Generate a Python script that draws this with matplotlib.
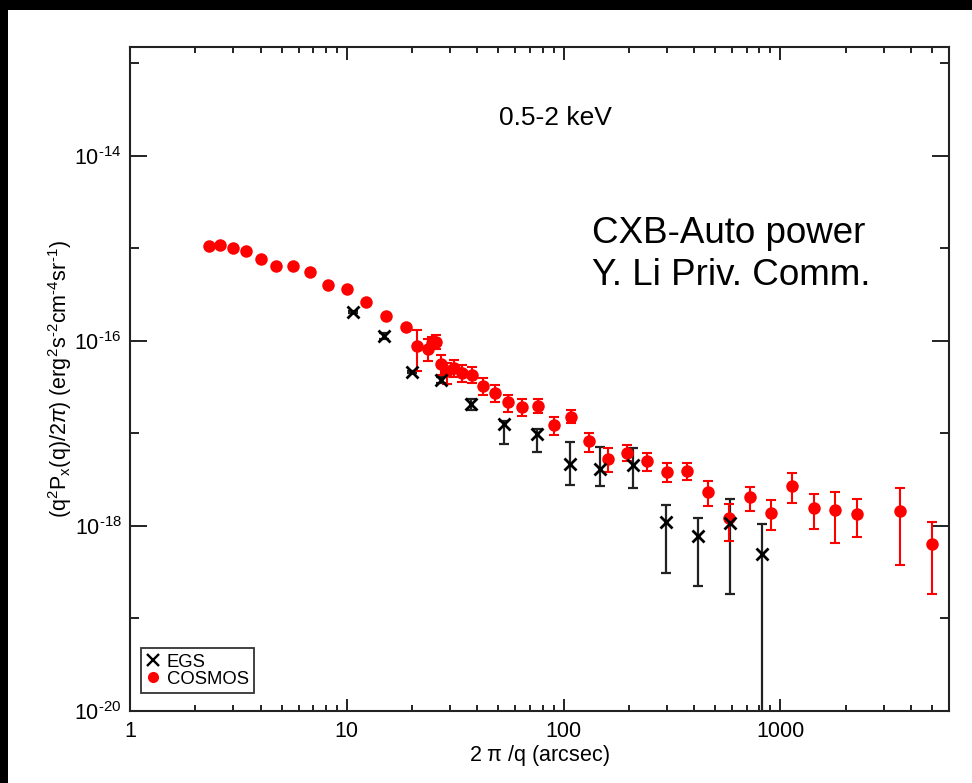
import matplotlib
matplotlib.use("Agg")
import matplotlib.pyplot as plt
from matplotlib.lines import Line2D
from matplotlib.patches import Rectangle
import matplotlib.ticker as mticker
import numpy as np

plt.rcParams['font.family'] = ['Liberation Sans', 'DejaVu Sans']
plt.rcParams['mathtext.fontset'] = 'custom'
plt.rcParams['mathtext.rm'] = 'Liberation Sans'
plt.rcParams['mathtext.it'] = 'Liberation Sans:italic'
plt.rcParams['mathtext.bf'] = 'Liberation Sans:bold'

# ---------------- data ----------------
egs_x = [10.7, 14.8, 19.9, 27.2, 37.6, 53.2, 75.5, 107, 148, 210, 298, 417, 583, 822]
egs_y = [2.03e-16, 1.12e-16, 4.59e-17, 3.76e-17, 2.09e-17, 1.25e-17, 9.95e-18,
         4.69e-18, 4.16e-18, 4.52e-18, 1.09e-18, 7.78e-19, 1.07e-18, 4.92e-19]
egs_hi = [2.08e-16, 1.21e-16, 4.70e-17, 4.05e-17, 2.36e-17, 1.35e-17, 1.12e-17,
          8.01e-18, 7.11e-18, 6.88e-18, 1.69e-18, 1.22e-18, 1.97e-18, 1.06e-18]
egs_lo = [1.98e-16, 1.04e-16, 4.48e-17, 3.49e-17, 1.81e-17, 7.76e-18, 6.31e-18,
          2.78e-18, 2.67e-18, 2.58e-18, 3.12e-19, 2.27e-19, 1.85e-19, 1.0e-21]

cos_x = [2.32, 2.61, 2.98, 3.42, 4.01, 4.73, 5.63, 6.77, 8.23, 10.0, 12.3, 15.2, 18.8,
         21.1, 23.6, 24.7, 25.7, 27.1, 28.9, 31.2, 34.0, 37.7, 42.6, 48.2, 55.5, 64.6,
         76.3, 90.2, 108, 131, 161, 197, 242, 300, 372, 465, 579, 721, 905, 1138, 1423,
         1786, 2248, 3548, 4988]
cos_y = [1.05e-15, 1.08e-15, 1.02e-15, 9.35e-16, 7.74e-16, 6.39e-16, 6.44e-16, 5.6e-16,
         3.98e-16, 3.66e-16, 2.6e-16, 1.87e-16, 1.42e-16,
         8.77e-17, 8.22e-17, 9.53e-17, 9.78e-17, 5.69e-17, 4.67e-17, 5.12e-17, 4.52e-17,
         4.33e-17, 3.29e-17, 2.74e-17, 2.17e-17, 1.95e-17, 2.0e-17, 1.24e-17, 1.52e-17,
         8.22e-18, 5.34e-18, 6.15e-18, 5.01e-18, 3.86e-18, 3.93e-18, 2.33e-18, 1.23e-18,
         2.03e-18, 1.39e-18, 2.72e-18, 1.57e-18, 1.49e-18, 1.35e-18, 1.46e-18, 6.42e-19]
cos_hi = [1.05e-15, 1.08e-15, 1.02e-15, 9.35e-16, 7.74e-16, 6.39e-16, 6.44e-16, 5.6e-16,
          3.98e-16, 3.66e-16, 2.6e-16, 1.87e-16, 1.42e-16,
          1.30e-16, 1.05e-16, 1.10e-16, 1.15e-16, 7.12e-17, 5.79e-17, 6.29e-17, 5.46e-17,
          5.19e-17, 3.95e-17, 3.32e-17, 2.63e-17, 2.36e-17, 2.38e-17, 1.51e-17, 1.77e-17,
          1.01e-17, 6.97e-18, 7.43e-18, 6.15e-18, 4.77e-18, 4.79e-18, 3.03e-18, 1.74e-18,
          2.61e-18, 1.89e-18, 3.70e-18, 2.23e-18, 2.30e-18, 1.94e-18, 2.55e-18, 1.11e-18]
cos_lo = [1.05e-15, 1.08e-15, 1.02e-15, 9.35e-16, 7.74e-16, 6.39e-16, 6.44e-16, 5.6e-16,
          3.98e-16, 3.66e-16, 2.6e-16, 1.87e-16, 1.42e-16,
          4.70e-17, 6.03e-17, 8.20e-17, 8.07e-17, 4.33e-17, 3.43e-17, 4.09e-17, 3.57e-17,
          3.52e-17, 2.63e-17, 2.17e-17, 1.72e-17, 1.53e-17, 1.67e-17, 9.54e-18, 1.28e-17,
          6.31e-18, 3.79e-18, 4.99e-18, 3.96e-18, 3.01e-18, 3.11e-18, 1.65e-18, 6.92e-19,
          1.46e-18, 8.94e-19, 1.75e-18, 9.16e-19, 6.53e-19, 7.51e-19, 3.80e-19, 1.85e-19]

HY = '\u2010'  # short hyphen used in the superscripts
x_ticks = [1, 10, 100, 1000]
x_ticklabels = ['1', '10', '100', '1000']
y_ticks = [1e-20, 1e-18, 1e-16, 1e-14]
y_ticklabels = ['10$^{\\mathregular{' + HY + '20}}$', '10$^{\\mathregular{' + HY + '18}}$',
                '10$^{\\mathregular{' + HY + '16}}$', '10$^{\\mathregular{' + HY + '14}}$']

# ---------------- figure ----------------
W, H = 972, 783
fig = plt.figure(figsize=(W / 100, H / 100), dpi=100)
fig.patch.set_facecolor('white')
fig.patches.append(Rectangle((0, 1 - 10 / H), 1, 10 / H, transform=fig.transFigure,
                             facecolor='black', edgecolor='none', zorder=10))
fig.patches.append(Rectangle((0, 0), 8 / W, 1, transform=fig.transFigure,
                             facecolor='black', edgecolor='none', zorder=10))

ax = fig.add_axes([130 / W, (H - 711) / H, (949 - 130) / W, (711 - 47) / H])
ax.set_xscale('log')
ax.set_yscale('log')
ax.set_xlim(1, 6000)
ax.set_ylim(1e-20, 1.5e-13)

ex = np.array(egs_x); ey = np.array(egs_y)
eerr = [ey - np.array(egs_lo), np.array(egs_hi) - ey]
cx = np.array(cos_x); cy = np.array(cos_y)
cerr = [cy - np.array(cos_lo), np.array(cos_hi) - cy]

ax.errorbar(ex, ey, yerr=eerr, fmt='none', ecolor='#222222', elinewidth=1.6,
            capsize=3.6, capthick=1.6, zorder=2)
ax.errorbar(cx, cy, yerr=cerr, fmt='none', ecolor='red', elinewidth=1.5,
            capsize=3.6, capthick=1.5, zorder=3)
ax.plot(cx, cy, linestyle='none', marker='o', color='red', markersize=9, mew=0,
        zorder=3.5)
ax.plot(ex, ey, linestyle='none', marker='x', color='black', markersize=8,
        mew=2.0, zorder=4)

for sp in ax.spines.values():
    sp.set_linewidth(1.5)
    sp.set_color('#222222')
ax.set_xticks(x_ticks)
ax.set_xticklabels(x_ticklabels)
ax.xaxis.set_minor_locator(mticker.LogLocator(base=10, subs=np.arange(2, 10)))
ax.xaxis.set_minor_formatter(mticker.NullFormatter())
ax.set_yticks(y_ticks)
ax.set_yticklabels(y_ticklabels)
ax.yaxis.set_minor_locator(mticker.FixedLocator([1e-19, 1e-17, 1e-15, 1e-13]))
ax.yaxis.set_minor_formatter(mticker.NullFormatter())

ax.tick_params(axis='both', which='both', direction='in', top=True, right=True,
               width=1.4, color='#222222', labelsize=15.5)
ax.tick_params(axis='x', which='major', length=9, pad=7)
ax.tick_params(axis='x', which='minor', length=4.5)
ax.tick_params(axis='y', which='major', length=12, pad=6)
ax.tick_params(axis='y', which='minor', length=6.3)

ax.set_xlabel(r'2 $\mathregular{\pi}$ /q (arcsec)', fontsize=15.5, labelpad=1)
ax.set_ylabel('(q$^{\\mathregular{2}}$P$_{\\mathregular{x}}$(q)/2$\\mathit{\\pi}$) '
              '(erg$^{\\mathregular{2}}$s$^{\\mathregular{' + HY + '2}}$cm$^{\\mathregular{'
              + HY + '4}}$sr$^{\\mathregular{' + HY + '1}}$)',
              fontsize=15.5)
ax.yaxis.set_label_coords((74 - 130) / 819, 0.5)

ax.text(0.519, 0.893, '0.5-2 keV', transform=ax.transAxes, fontsize=19,
        ha='center', va='center')
ax.text(0.564, 0.705, 'CXB-Auto power', transform=ax.transAxes, fontsize=26.5,
        ha='left', va='baseline')
ax.text(0.564, 0.6416, 'Y. Li Priv. Comm.', transform=ax.transAxes, fontsize=26.5,
        ha='left', va='baseline')

handles = [Line2D([], [], linestyle='none', marker='x', color='black', markersize=8,
                  mew=1.7),
           Line2D([], [], linestyle='none', marker='o', color='red', markersize=8, mew=0)]
leg = ax.legend(handles, ['EGS', 'COSMOS'], loc='lower left',
                bbox_to_anchor=(0.0134, 0.027), fontsize=13.3, frameon=True,
                fancybox=False, edgecolor='black', handlelength=0.7,
                handletextpad=0.4, borderpad=0.3, labelspacing=0.0,
                borderaxespad=0)
leg.get_frame().set_linewidth(1.3)

fig.savefig('out.png', dpi=100, facecolor='white')
